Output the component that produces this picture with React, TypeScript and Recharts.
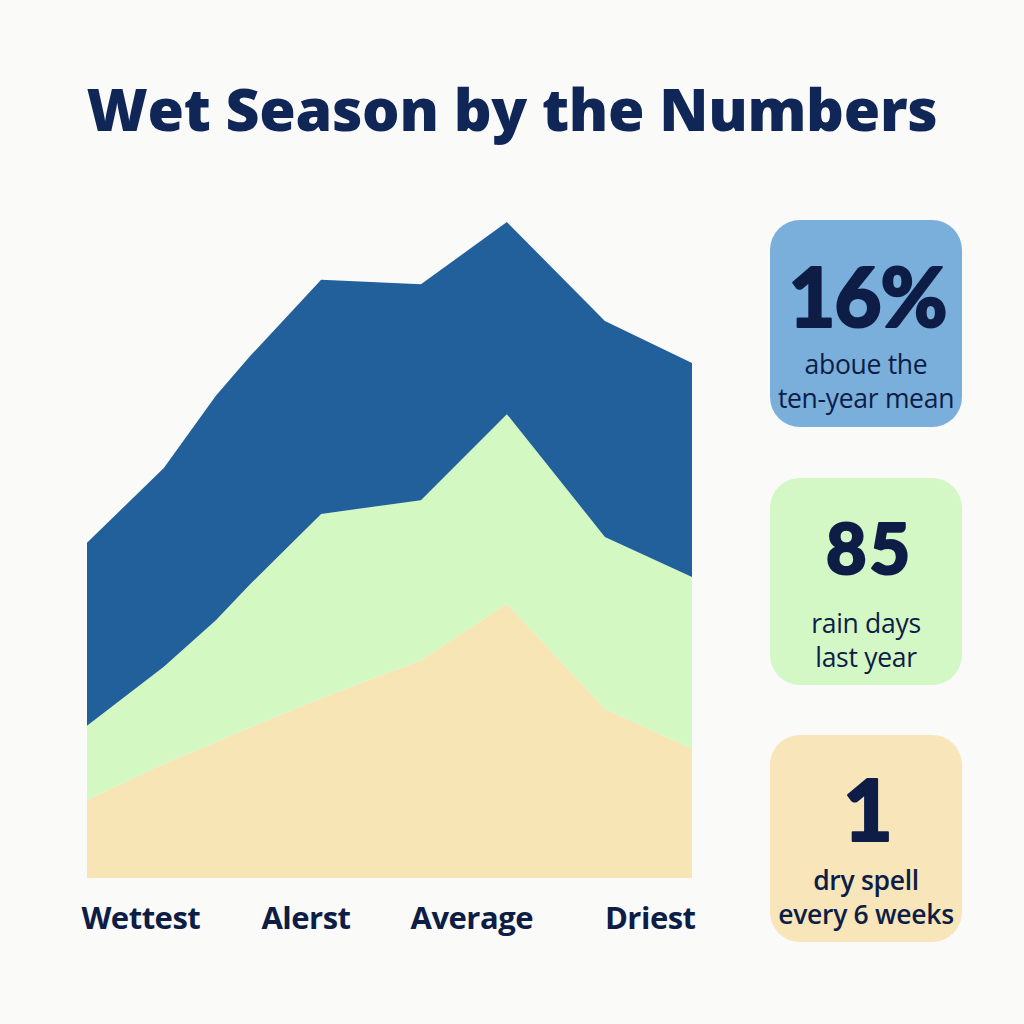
import React from "react";
import { AreaChart, Area, XAxis, YAxis } from "recharts";

const xPositions = [0, 12.7, 21.3, 27, 38.7, 55.2, 69.4, 85.6, 100];
const dryLayer = [11.9, 17.4, 20.7, 23.0, 27.4, 33.2, 41.8, 25.8, 19.7];
const typicalLayer = [11.3, 14.8, 18.6, 21.8, 28.1, 24.4, 28.9, 26.2, 26.2];
const wetLayer = [27.9, 30.3, 34.2, 34.8, 35.7, 32.9, 29.3, 32.9, 32.6];

const tickValues = [8.9, 36.2, 63.6, 93.1];
const tickLabels = ["Wettest", "Alerst", "Average", "Driest"];

const cardValues = ["16%", "85", "1"];
const cardLines = [
  ["aboue the", "ten-year mean"],
  ["rain days", "last year"],
  ["dry spell", "every 6 weeks"],
];
const cardColors = ["#7aaedb", "#d4f7c6", "#f8e6ba"];

const data = xPositions.map((x, i) => ({
  x,
  dry: dryLayer[i],
  typical: typicalLayer[i],
  wet: wetLayer[i],
}));

const NAVY = "#0d1d45";

const Tick = (props: any) => {
  const { x, y, index } = props;
  return (
    <text
      x={x}
      y={y + 43}
      textAnchor="middle"
      fontFamily="Open Sans"
      fontWeight={700}
      fontSize={31}
      letterSpacing={-0.5}
      fill={NAVY}
    >
      {tickLabels[index]}
    </text>
  );
};

const cardTops = [220, 478, 735];
const numStyle = [
  { size: 81, base: 107, spacing: -1 },
  { size: 70, base: 96, spacing: 3 },
  { size: 86, base: 106, spacing: 0 },
];
const subBase = [154, 155, 155];

export default function App() {
  return (
    <div
      style={{
        position: "absolute",
        left: 0,
        top: 0,
        width: 1024,
        height: 1024,
        background: "#fafaf9",
        overflow: "hidden",
        fontFamily: "Open Sans",
      }}
    >
      <div
        style={{
          position: "absolute",
          left: 0,
          top: 68,
          width: 1024,
          textAlign: "center",
          fontSize: 59,
          fontWeight: 800,
          color: "#0f2656",
          lineHeight: "80px",
          letterSpacing: -0.3,
        }}
      >
        Wet Season by the Numbers
      </div>
      <div style={{ position: "absolute", left: 0, top: 0 }}>
        <AreaChart
          width={700}
          height={960}
          data={data}
          margin={{ top: 222, right: 8, left: 87, bottom: 0 }}
        >
          <XAxis
            dataKey="x"
            type="number"
            domain={[0, 100]}
            ticks={tickValues}
            interval={0}
            axisLine={false}
            tickLine={false}
            height={82}
            tick={<Tick />}
          />
          <YAxis hide domain={[0, 100]} />
          <Area
            type="linear"
            dataKey="dry"
            stackId="1"
            stroke="none"
            fill="#f8e5b6"
            fillOpacity={1}
            isAnimationActive={false}
          />
          <Area
            type="linear"
            dataKey="typical"
            stackId="1"
            stroke="none"
            fill="#d3f8c1"
            fillOpacity={1}
            isAnimationActive={false}
          />
          <Area
            type="linear"
            dataKey="wet"
            stackId="1"
            stroke="none"
            fill="#22609c"
            fillOpacity={1}
            isAnimationActive={false}
          />
        </AreaChart>
      </div>
      {cardValues.map((v, i) => (
        <div
          key={i}
          style={{
            position: "absolute",
            left: 770,
            top: cardTops[i],
            width: 192,
            height: 207,
            borderRadius: 30,
            background: cardColors[i],
          }}
        >
          <svg
            width={192}
            height={207}
            style={{ position: "absolute", left: 0, top: 0, overflow: "visible" }}
          >
            <text
              x={98 + numStyle[i].spacing / 2}
              y={numStyle[i].base}
              textAnchor="middle"
              fontFamily="Lato"
              fontWeight={900}
              fontSize={numStyle[i].size}
              letterSpacing={numStyle[i].spacing}
              fill={NAVY}
              stroke={NAVY}
              strokeWidth={2.2}
              strokeLinejoin="round"
            >
              {v}
            </text>
            <text
              x={96}
              y={subBase[i]}
              textAnchor="middle"
              fontFamily="Open Sans"
              fontWeight={i === 2 ? 600 : 400}
              fontSize={26.5}
              letterSpacing={-0.3}
              fill={NAVY}
            >
              {cardLines[i][0]}
            </text>
            <text
              x={96}
              y={subBase[i] + 34}
              textAnchor="middle"
              fontFamily="Open Sans"
              fontWeight={i === 2 ? 600 : 400}
              fontSize={26.5}
              letterSpacing={-0.3}
              fill={NAVY}
            >
              {cardLines[i][1]}
            </text>
          </svg>
        </div>
      ))}
    </div>
  );
}
